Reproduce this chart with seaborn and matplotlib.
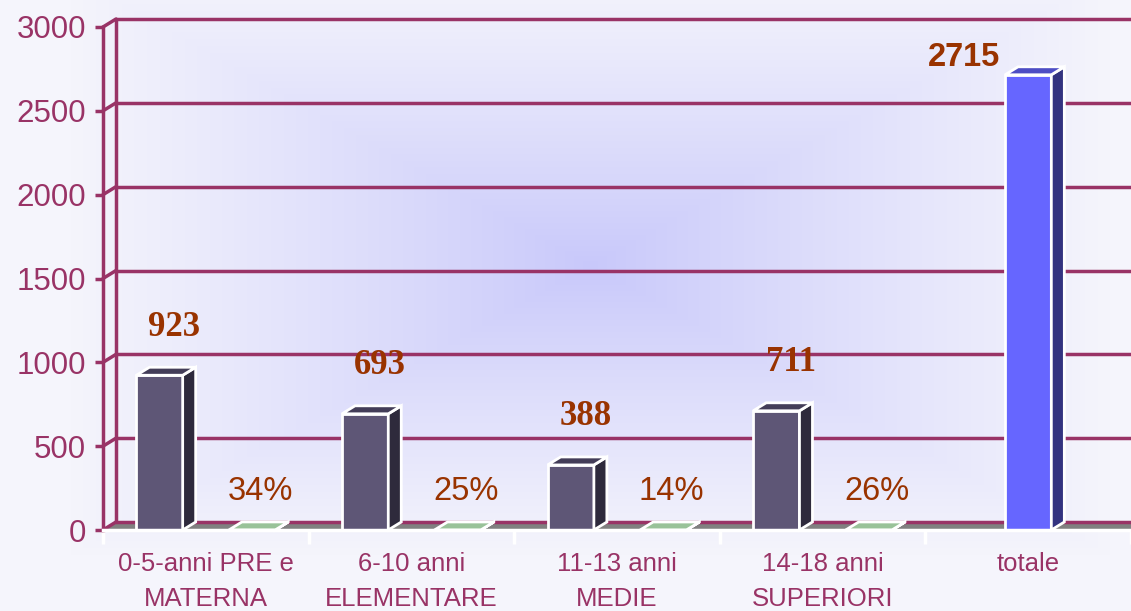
import numpy as np
import pandas as pd
import matplotlib
matplotlib.use("Agg")
import matplotlib.pyplot as plt
from matplotlib.patches import Polygon
import seaborn as sns

# ---------------- data ----------------
categories = ["0-5-anni PRE e\nMATERNA", "6-10 anni\nELEMENTARE",
              "11-13 anni\nMEDIE", "14-18 anni\nSUPERIORI", "totale"]
counts = [923, 693, 388, 711]
shares = [0.34, 0.25, 0.14, 0.26]
total_label = "totale"
total_value = 2715
yticks = [0, 500, 1000, 1500, 2000, 2500, 3000]

# ---------------- style ----------------
sns.set_theme(style="white")
plt.rcParams["font.family"] = ["Liberation Sans", "DejaVu Sans"]

MAG = "#993366"
BROWN = "#993300"
FRONT = {"count": "#5e5676", "share": "#99c299", "tot": "#6666ff"}
SIDE = {"count": "#2e2a3c", "share": "#99c299", "tot": "#333380"}
TOP = {"count": "#433d58", "share": "#99c299", "tot": "#4d4dc4"}

fig = plt.figure(figsize=(11.31, 6.11), dpi=100)

# background gradient
bg = fig.add_axes([0, 0, 1, 1], zorder=-10)
H, W = 611, 1131
yy, xx = np.mgrid[0:H, 0:W]
t = np.maximum(np.abs(xx - 590) / 520.0, np.abs(yy - 265) / 290.0)
t = np.clip(t, 0, 1) ** 0.9
c0 = np.array([200, 200, 250]) / 255.0
c1 = np.array([245, 245, 252]) / 255.0
img = c0[None, None, :] + (c1 - c0)[None, None, :] * t[..., None]
bg.imshow(img, aspect="auto", extent=[0, 1, 0, 1])
bg.set_axis_off()

ax = fig.add_axes([103 / W, 1 - 530 / H, 1 - 103 / W, (530 - 27) / H])
ax.set_facecolor("none")

df = pd.DataFrame({
    "cat": categories[:4] * 2,
    "series": ["count"] * 4 + ["share"] * 4,
    "value": counts + shares,
})

sns.barplot(data=df, x="cat", y="value", hue="series", order=categories,
            hue_order=["count", "share"], palette=FRONT, width=0.9, gap=0.5,
            saturation=1, edgecolor="white", linewidth=2, legend=False,
            ax=ax, zorder=3)
main_patches = list(ax.patches)
sns.barplot(x=[total_label], y=[total_value], order=categories,
            color=FRONT["tot"], width=0.225, saturation=1, edgecolor="white",
            linewidth=2, ax=ax, zorder=3)
tot_patch = [p for p in ax.patches if p not in main_patches][0]

ax.set_xlim(-0.5, 4.5)
ax.set_ylim(0, 3000)

dx = 13 / 205.6          # depth in x (data units)
dy = 8 / (503 / 3000)    # depth in y (data units)

def add3d(p, kind):
    x0, w, h = p.get_x(), p.get_width(), p.get_height()
    x1 = x0 + w
    side = Polygon([(x1, 0), (x1 + dx, dy), (x1 + dx, h + dy), (x1, h)],
                   closed=True, fc=SIDE[kind], ec="white", lw=2, zorder=3,
                   clip_on=False)
    top = Polygon([(x0, h), (x0 + dx, h + dy), (x1 + dx, h + dy), (x1, h)],
                  closed=True, fc=TOP[kind], ec="white", lw=2, zorder=3,
                  clip_on=False)
    ax.add_patch(side)
    ax.add_patch(top)

count_patches = main_patches[:4]
share_patches = main_patches[4:8]
for p in count_patches:
    add3d(p, "count")
for p in share_patches:
    add3d(p, "share")
add3d(tot_patch, "tot")

# floor and back wall
floor = Polygon([(-0.5, 0), (-0.5 + dx, dy), (4.5, dy), (4.5, 0)], closed=True,
                fc="#808080", ec="none", zorder=1, clip_on=False)
ax.add_patch(floor)
for v in yticks:
    ax.plot([-0.5 + dx, 4.5], [v + dy, v + dy], color=MAG, lw=2.5, zorder=1.5,
            clip_on=False, solid_capstyle="butt")
    ax.plot([-0.5, -0.5 + dx], [v, v + dy], color=MAG, lw=2.5, zorder=1.5,
            clip_on=False)
ax.plot([-0.5 + dx, -0.5 + dx], [dy, 3000 + dy], color=MAG, lw=2.5,
        zorder=1.5, clip_on=False)

# labels on bars
for p, v in zip(count_patches, counts):
    ax.annotate(f"{v}", xy=(p.get_x() + p.get_width() / 2, p.get_height()),
                xytext=(15, 48), textcoords="offset pixels", ha="center",
                va="center", fontsize=25, fontweight="bold", color=BROWN,
                family=["Liberation Serif", "DejaVu Serif"], zorder=5)
for p, s in zip(share_patches, shares):
    ax.annotate(f"{round(s * 100)}%", xy=(p.get_x() + p.get_width() / 2, 0),
                xytext=(8, 38), textcoords="offset pixels", ha="center",
                va="center", fontsize=23.5, color=BROWN, zorder=5,
                family=["Liberation Sans", "DejaVu Sans"])
ax.annotate(f"{total_value}",
            xy=(tot_patch.get_x() + tot_patch.get_width() / 2,
                tot_patch.get_height()),
            xytext=(-64, 17), textcoords="offset pixels", ha="center",
            va="center", fontsize=23.5, fontweight="bold", color=BROWN,
            family=["Liberation Sans", "DejaVu Sans"], zorder=5)

# axes styling
for s in ["top", "right"]:
    ax.spines[s].set_visible(False)
ax.spines["left"].set_color(MAG)
ax.spines["left"].set_linewidth(2.5)
ax.spines["bottom"].set_color("white")
ax.spines["bottom"].set_linewidth(2.5)
ax.spines["bottom"].set_zorder(4)

ax.set_yticks(yticks)
ax.set_yticklabels([str(v) for v in yticks])
ax.tick_params(axis="y", which="major", left=True, length=6, width=2.5,
               color=MAG, labelcolor=MAG, labelsize=22.5, pad=6)
ax.set_xticks(range(len(categories)))
ax.set_xticklabels(categories, linespacing=1.55)
ax.set_xticks(np.arange(-0.5, 4.6, 1.0), minor=True)
ax.tick_params(axis="x", which="major", bottom=False, length=0,
               labelcolor=MAG, labelsize=18.5, pad=16)
ax.tick_params(axis="x", which="minor", bottom=True, length=10, width=2.5,
               color="white")
ax.set_xlabel("")
ax.set_ylabel("")
ax.grid(False)

fig.savefig("out.png", dpi=100)
